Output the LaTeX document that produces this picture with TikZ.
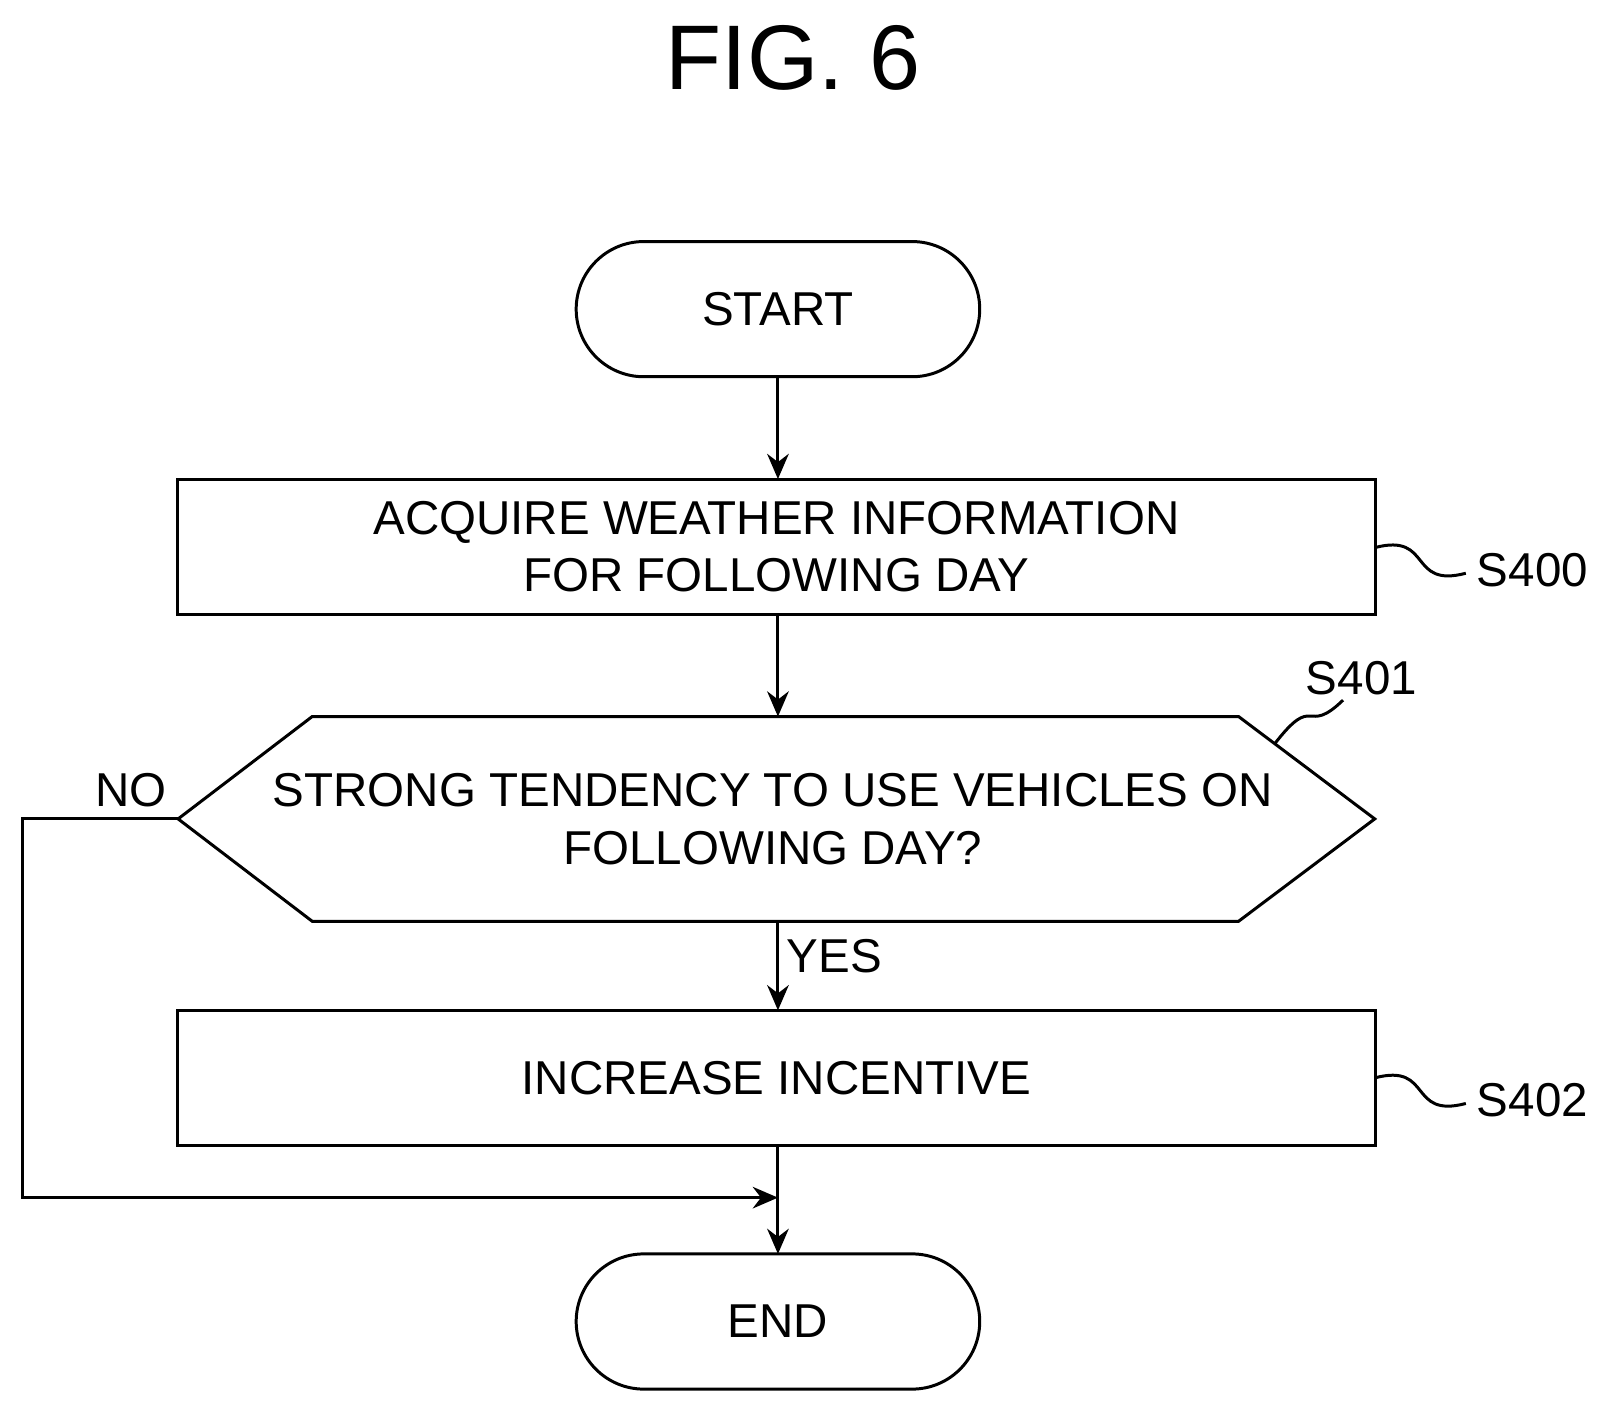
\documentclass[tikz,border=0pt]{standalone}
\usepackage{fontspec}
\setmainfont{Liberation Sans}
\usetikzlibrary{arrows.meta}
\begin{document}
\begin{tikzpicture}[x=0.01cm,y=-0.01cm,
  line/.style={line width=0.83pt},
  arr/.style={line, -{Stealth[length=7pt,width=6pt]}},
  txt/.style={font=\fontsize{13.2}{16}\selectfont, align=center, inner sep=0},
  lbl/.style={font=\fontsize{13.2}{16}\selectfont, inner sep=0},
  term/.style={line, draw, rounded corners=0.66cm, minimum width=3.94cm, minimum height=1.32cm, txt},
  box/.style={line, draw, minimum width=11.69cm, minimum height=1.32cm, txt}]
\useasboundingbox (0,0) rectangle (1567,1378);
\node[font=\fontsize{25.5}{30}\selectfont] (title) at (775,57) {FIG. 6};
\node[term] (start) at (760,302) {START};
\node[term] (end) at (760,1291) {END};
\node[box] (s400) at (758.5,534) {ACQUIRE WEATHER INFORMATION\\FOR FOLLOWING DAY};
\draw[line] (174,800) -- (305,700) -- (1210,700) -- (1343,800) -- (1210,900) -- (305,900) -- cycle;
\coordinate (hexL) at (174,800);
\coordinate (hexT) at (760,700);
\coordinate (hexB) at (760,900);
\node[txt] (s401) at (755,800) {STRONG TENDENCY TO USE VEHICLES ON\\FOLLOWING DAY?};
\node[box] (s402) at (758.5,1053) {INCREASE INCENTIVE};
\draw[arr] (760,368) -- (760,468);
\draw[arr] (760,600) -- (hexT);
\draw[arr] (hexB) -- (760,987);
\draw[arr] (760,1119) -- (760,1225);
\coordinate (c1) at (22,800);
\coordinate (c2) at (22,1170);
\coordinate (c3) at (760,1170);
\draw[arr] (hexL) -- (c1) -- (c2) -- (c3);
\node[lbl] (yes) at (815,934) {YES};
\node[lbl] (no) at (128,772) {NO};
\node[lbl] (l400) at (1497,557) {S400};
\node[lbl] (l401) at (1330,662) {S401};
\node[lbl] (l402) at (1497,1075) {S402};
\draw[line] (1343,535) .. controls (1400,520) and (1375,575) .. (1432,560);
\draw[line] (1245,727) .. controls (1285,675) and (1275,720) .. (1312,684);
\draw[line] (1343,1053) .. controls (1400,1038) and (1375,1093) .. (1432,1078);
\end{tikzpicture}
\end{document}
